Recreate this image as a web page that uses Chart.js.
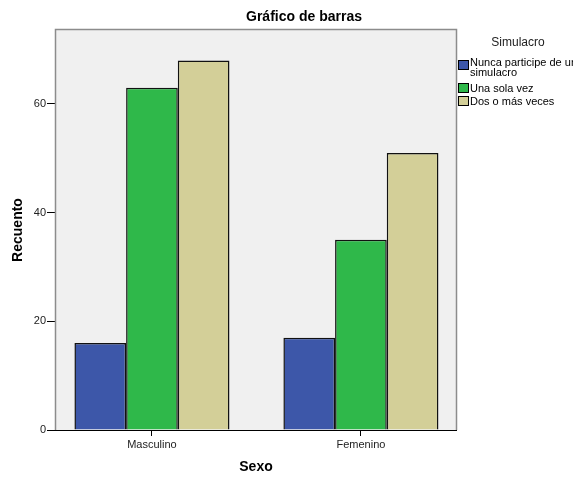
<!DOCTYPE html>
<html>
<head>
<meta charset="utf-8">
<script src="https://cdn.jsdelivr.net/npm/chart.js@4"></script>
<style>
  html, body { margin: 0; padding: 0; background: #fff; }
  #wrap { width: 573px; height: 477px; }
</style>
</head>
<body>
<div id="wrap"><canvas id="chart" width="573" height="477"></canvas></div>
<script>
// valores
const categories = ['Masculino', 'Femenino'];
const seriesNames = [['Nunca participe de un', 'simulacro'], ['Una sola vez'], ['Dos o más veces']];
const nunca = [16, 17];
const unaVez = [63, 35];
const dosOMas = [68, 51];
const yTicks = [0, 20, 40, 60];
const colors = ['#3d57a9', '#2fb84a', '#d3cf98'];

const FONT = '"Liberation Sans", Arial, sans-serif';

function toPoints(values) {
  return values.map((v, i) => ({ x: i, y: v }));
}

const spssDecor = {
  id: 'spssDecor',
  beforeDraw(chart) {
    const { ctx, chartArea: a } = chart;
    ctx.save();
    ctx.fillStyle = '#f0f0f0';
    ctx.fillRect(a.left, a.top, a.right - a.left, a.bottom - a.top);
    ctx.restore();
  },
  afterDraw(chart) {
    const { ctx, chartArea: a } = chart;
    ctx.save();
    // marco gris
    ctx.strokeStyle = '#8c8c8c';
    ctx.lineWidth = 1.5;
    ctx.beginPath();
    ctx.moveTo(a.left + 0.5, a.bottom);
    ctx.lineTo(a.left + 0.5, a.top + 0.5);
    ctx.lineTo(a.right + 0.5, a.top + 0.5);
    ctx.lineTo(a.right + 0.5, a.bottom);
    ctx.stroke();
    // eje x
    ctx.strokeStyle = '#000';
    ctx.lineWidth = 1;
    ctx.beginPath();
    ctx.moveTo(a.left, a.bottom + 0.5);
    ctx.lineTo(a.right + 1, a.bottom + 0.5);
    ctx.stroke();

    // titulos
    ctx.fillStyle = '#000';
    ctx.textAlign = 'center';
    ctx.textBaseline = 'middle';
    ctx.font = 'bold 14px ' + FONT;
    ctx.fillText('Gráfico de barras', 304, 17);
    ctx.fillText('Sexo', 256, 467);
    ctx.save();
    ctx.translate(18, 230);
    ctx.rotate(-Math.PI / 2);
    ctx.fillText('Recuento', 0, 0);
    ctx.restore();

    // leyenda
    ctx.font = '12px ' + FONT;
    ctx.fillStyle = '#222';
    ctx.fillText('Simulacro', 518, 43);
    ctx.textAlign = 'left';
    ctx.font = '11px ' + FONT;
    const boxTops = [60, 83, 96];
    chart.data.datasets.forEach((ds, i) => {
      const y = boxTops[i];
      ctx.fillStyle = ds.backgroundColor;
      ctx.fillRect(458, y, 11, 10);
      ctx.strokeStyle = '#000';
      ctx.lineWidth = 1;
      ctx.strokeRect(458.5, y + 0.5, 10, 9);
      ctx.fillStyle = '#000';
      const lines = seriesNames[i];
      const first = lines.length > 1 ? y + 2.5 : y + 5.5;
      lines.forEach((t, j) => ctx.fillText(t, 470, first + j * 10.5));
    });
    ctx.restore();
  }
};

new Chart(document.getElementById('chart'), {
  type: 'bar',
  data: {
    datasets: [
      { label: seriesNames[0].join(' '), data: toPoints(nunca), backgroundColor: colors[0] },
      { label: seriesNames[1][0], data: toPoints(unaVez), backgroundColor: colors[1] },
      { label: seriesNames[2][0], data: toPoints(dosOMas), backgroundColor: colors[2] }
    ]
  },
  options: {
    responsive: false,
    animation: false,
    devicePixelRatio: 1,
    layout: { padding: { left: 0, top: 29, right: 117, bottom: 0 } },
    datasets: {
      bar: {
        borderColor: '#111',
        borderWidth: 1.5,
        categoryPercentage: 0.742,
        barPercentage: 1
      }
    },
    plugins: {
      legend: { display: false },
      title: { display: false },
      tooltip: { enabled: false }
    },
    scales: {
      x: {
        type: 'linear',
        offset: false,
        min: -0.464,
        max: 1.455,
        afterFit(scale) { scale.height = 47; },
        afterBuildTicks(scale) {
          scale.ticks = categories.map((c, i) => ({ value: i }));
        },
        ticks: {
          callback: v => categories[v],
          color: '#222',
          font: { family: FONT, size: 11 },
          padding: 2,
          maxRotation: 0
        },
        grid: { offset: false, drawOnChartArea: false, tickLength: 6, tickColor: '#000', tickWidth: 1 },
        border: { display: false }
      },
      y: {
        min: 0,
        max: 73.8,
        afterFit(scale) { scale.width = 55; },
        afterBuildTicks(scale) {
          scale.ticks = yTicks.map(v => ({ value: v }));
        },
        ticks: {
          color: '#222',
          font: { family: FONT, size: 11 },
          padding: 1
        },
        grid: { drawOnChartArea: false, tickLength: 8, tickColor: '#000', tickWidth: 1 },
        border: { display: false }
      }
    }
  },
  plugins: [spssDecor]
});
</script>
</body>
</html>
